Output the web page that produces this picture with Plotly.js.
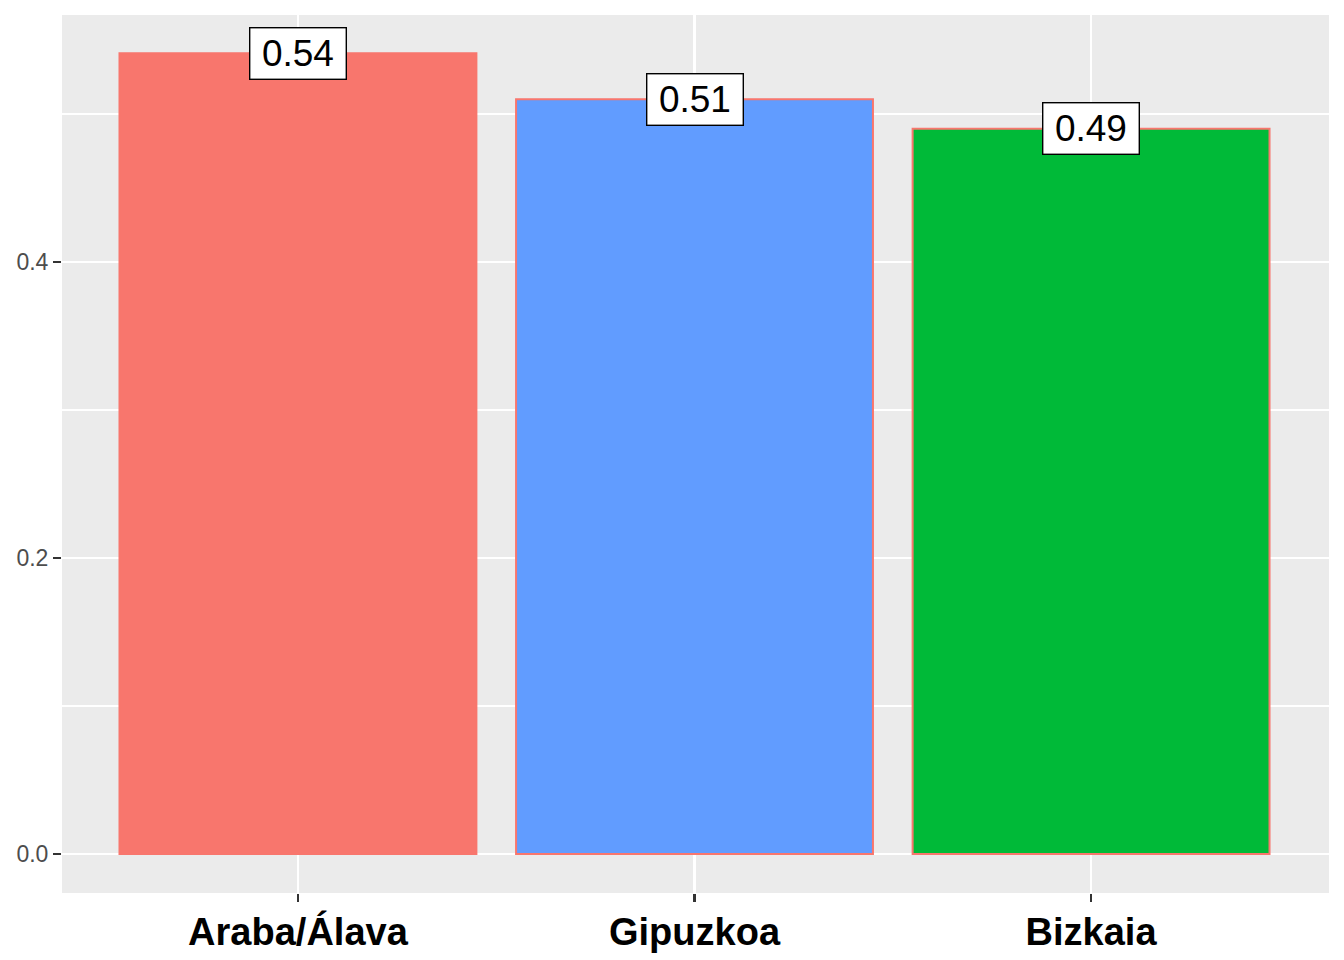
<!DOCTYPE html>
<html>
<head>
<meta charset="utf-8">
<script src="https://cdn.plot.ly/plotly-3.0.1.min.js"></script>
<style>html,body{margin:0;padding:0;background:#fff;}#chart{width:1344px;height:960px;}</style>
</head>
<body>
<div id="chart"></div>
<script>
const categories = ["Araba/Álava", "Gipuzkoa", "Bizkaia"];
const values = [0.541, 0.510, 0.490];
const labels = ["0.54", "0.51", "0.49"];
const colors = ["#F8766D", "#619CFF", "#00BA38"];

const trace = {
  type: "bar",
  x: categories,
  y: values,
  width: 0.9,
  marker: { color: colors, line: { color: "#F8766D", width: 2 } },
  hoverinfo: "none"
};

const annotations = categories.map((c, i) => ({
  x: c, y: values[i], xref: "x", yref: "y",
  text: labels[i], showarrow: false,
  xanchor: "center", yanchor: "middle",
  font: { family: "Liberation Sans, Arial, sans-serif", size: 37, color: "#000" },
  bgcolor: "#ffffff", bordercolor: "#000000", borderwidth: 1.4,
  borderpad: 2, width: 91, height: 46
}));

const layout = {
  width: 1344, height: 960,
  margin: { l: 62, r: 15, t: 15, b: 67 },
  paper_bgcolor: "#ffffff",
  plot_bgcolor: "#EBEBEB",
  showlegend: false,
  bargap: 0.1,
  font: { family: "Liberation Sans, Arial, sans-serif" },
  xaxis: {
    type: "category",
    range: [-0.595, 2.6],
    showgrid: true, gridcolor: "#ffffff", gridwidth: 2.2,
    zeroline: false, showline: false,
    ticks: "outside", ticklen: 8, tickwidth: 2.2, tickcolor: "#333333",
    ticklabelstandoff: -3,
    tickfont: { family: "Liberation Sans, Arial, sans-serif", size: 38, color: "#000000", weight: "bold" }
  },
  yaxis: {
    range: [-0.0264, 0.5669],
    tickmode: "array",
    tickvals: [0, 0.2, 0.4],
    ticktext: ["0.0", "0.2", "0.4"],
    showgrid: true, gridcolor: "#ffffff", gridwidth: 2.2,
    zeroline: false, showline: false,
    ticks: "outside", ticklen: 8, tickwidth: 2.2, tickcolor: "#333333",
    tickfont: { family: "Liberation Sans, Arial, sans-serif", size: 23, color: "#4D4D4D" },
    minor: { tickmode: "array", tickvals: [0.1, 0.3, 0.5], showgrid: true, gridcolor: "#ffffff", gridwidth: 1.1, ticks: "" }
  },
  annotations: annotations
};

Plotly.newPlot("chart", [trace], layout, { displayModeBar: false, staticPlot: true });
</script>
</body>
</html>
